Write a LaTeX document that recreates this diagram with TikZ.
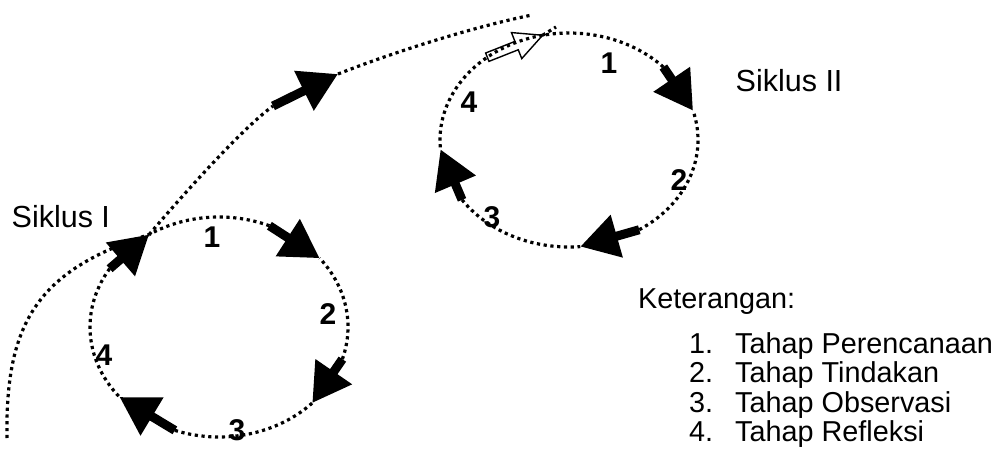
\documentclass[tikz,border=0pt]{standalone}
\usepackage{fontspec}
\setmainfont{Liberation Sans}
\usepackage{tikz}
\usetikzlibrary{calc,arrows.meta}
\tikzset{dotline/.style={line width=3.2pt, dash pattern=on 3.2pt off 3.6pt},
         fatarrow/.style={line width=9pt, -{Triangle[length=38pt,width=42pt]}},
         steplabel/.style={font=\fontsize{30}{30}\selectfont\bfseries, inner sep=0pt},
         cyclename/.style={font=\fontsize{30.5}{32}\selectfont, inner sep=0pt, anchor=base west},
         legend/.style={font=\fontsize{28.8}{30}\selectfont, inner sep=0pt, anchor=base west}}

\begin{document}
\begin{tikzpicture}[x=1pt, y=-1pt]
	\useasboundingbox (0,0) rectangle (1000,457);

	% siklus I: ellipse centre (219,327), radii 129/110
	\coordinate (J1) at ({219+129*cos(122.8)},{327-110*sin(122.8)});
	\coordinate (A1s) at ({219+129*cos(67)},{327-110*sin(67)});
	\coordinate (A1e) at ({219+129*cos(38.7)},{327-110*sin(38.7)});
	\coordinate (A2s) at ({219+129*cos(-17)},{327-110*sin(-17)});
	\coordinate (A2e) at ({219+129*cos(-43.7)},{327-110*sin(-43.7)});
	\coordinate (A3s) at ({219+129*cos(-110)},{327-110*sin(-110)});
	\coordinate (A3e) at ({219+129*cos(219.5)},{327-110*sin(219.5)});
	\coordinate (A4s) at ({219+129*cos(148)},{327-110*sin(148)});

	% siklus II: ellipse centre (569,140), radii 129/107
	\coordinate (H0) at ({569+129*cos(129.3)},{140-107*sin(129.3)});
	\coordinate (H1) at ({569+129*cos(101.8)},{140-107*sin(101.8)});
	\coordinate (B1s) at ({569+129*cos(43)},{140-107*sin(43)});
	\coordinate (B1e) at ({569+129*cos(15.9)},{140-107*sin(15.9)});
	\coordinate (B2s) at ({569+129*cos(-57)},{140-107*sin(-57)});
	\coordinate (B2e) at ({569+129*cos(-85)},{140-107*sin(-85)});
	\coordinate (B3s) at ({569+129*cos(-146)},{140-107*sin(-146)});
	\coordinate (B3e) at ({569+129*cos(185)},{140-107*sin(185)});
	\coordinate (Hx) at (556,27);

	% path in and out
	\coordinate (S0) at (7,438);
	\coordinate (U1) at (273,106);
	\coordinate (U2) at (338,74);
	\coordinate (UE) at (532,15);

	% hollow arrow into siklus II
	\coordinate (Hb) at ($(H1)!28pt!(H0)$);
	\draw[line width=1.4pt, fill=white] ($(H0)!4.5pt!90:(H1)$) -- ($(Hb)!4.5pt!90:(H1)$)
		-- ($(Hb)!14pt!90:(H1)$) -- (H1) -- ($(Hb)!14pt!-90:(H1)$)
		-- ($(Hb)!4.5pt!-90:(H1)$) -- ($(H0)!4.5pt!-90:(H1)$) -- cycle;

	% dotted parts
	\draw[dotline] plot[domain=67:122.8, samples=30] ({219+129*cos(\x)},{327-110*sin(\x)});
	\draw[dotline] plot[domain=-17:38.7, samples=30] ({219+129*cos(\x)},{327-110*sin(\x)});
	\draw[dotline] plot[domain=-110:-43.7, samples=30] ({219+129*cos(\x)},{327-110*sin(\x)});
	\draw[dotline] plot[domain=148:219.5, samples=30] ({219+129*cos(\x)},{327-110*sin(\x)});
	\draw[dotline] plot[domain=43:185, samples=60] ({569+129*cos(\x)},{140-107*sin(\x)});
	\draw[dotline] plot[domain=-57:15.9, samples=30] ({569+129*cos(\x)},{140-107*sin(\x)});
	\draw[dotline] plot[domain=-146:-85, samples=30] ({569+129*cos(\x)},{140-107*sin(\x)});
	\draw[dotline] (H1) -- (Hx);
	\draw[dotline] (S0) .. controls (5,320) and (40,270) .. (J1);
	\draw[dotline] (J1) .. controls (175,204) and (240,130) .. (U1);
	\draw[dotline] (U2) .. controls (394,52) and (473,27) .. (UE);

	% arrows
	\draw[fatarrow] (A1s) -- (A1e);
	\draw[fatarrow] (A2s) -- (A2e);
	\draw[fatarrow] (A3s) -- (A3e);
	\draw[fatarrow] (A4s) -- (J1);
	\draw[fatarrow] (B1s) -- (B1e);
	\draw[fatarrow] (B2s) -- (B2e);
	\draw[fatarrow] (B3s) -- (B3e);
	\draw[fatarrow] (U1) -- (U2);

	% step numbers
	\node[steplabel] (a1) at (212,237) {1};
	\node[steplabel] (a2) at (328,314) {2};
	\node[steplabel] (a3) at (237,430) {3};
	\node[steplabel] (a4) at (104,355) {4};
	\node[steplabel] (b1) at (609,63) {1};
	\node[steplabel] (b2) at (679,180) {2};
	\node[steplabel] (b3) at (492,217) {3};
	\node[steplabel] (b4) at (469,102) {4};

	\node[cyclename] (siklus1) at (11.5,227) {Siklus I};
	\node[cyclename] (siklus2) at (735.5,92) {Siklus II};

	% keterangan
	\node[legend] (ket) at (638,308) {Keterangan:};
	\foreach \t [count=\i] in {Perencanaan,Tindakan,Observasi,Refleksi} {
		\node[legend] (num\i) at (689,{323.5+29.6*\i}) {\i.};
		\node[legend] (item\i) at (735,{323.5+29.6*\i}) {Tahap \t};
	}
\end{tikzpicture}
\end{document}
